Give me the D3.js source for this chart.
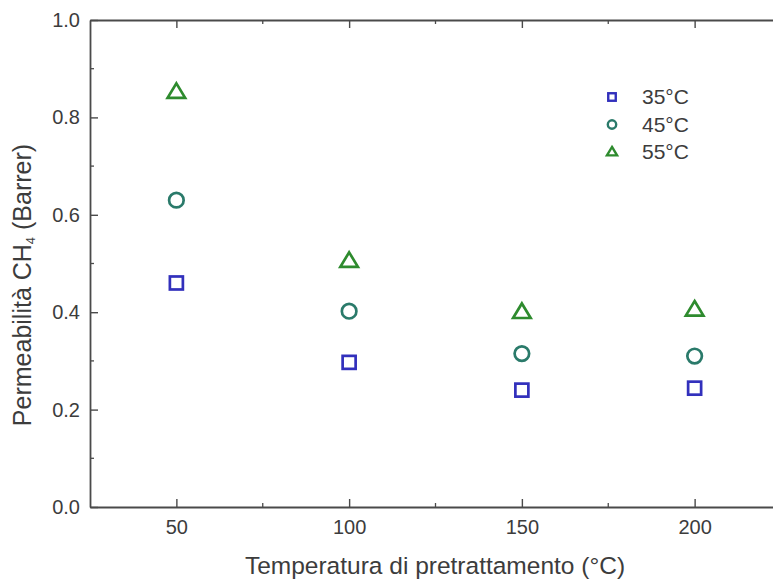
<!DOCTYPE html>
<html>
<head>
<meta charset="utf-8">
<script src="https://cdn.jsdelivr.net/npm/d3@7"></script>
<style>
  html, body { margin: 0; padding: 0; background: #fff; }
  svg { display: block; font-family: "Liberation Sans", Arial, sans-serif; }
</style>
</head>
<body>
<svg id="chart" width="773" height="581"></svg>
<script>
// Pretreatment temperatures (°C)
const temperatures = [50, 100, 150, 200];
// CH4 permeability (Barrer) measured at each test temperature
const perm35 = [0.460, 0.297, 0.240, 0.244];
const perm45 = [0.630, 0.402, 0.315, 0.310];
const perm55 = [0.852, 0.505, 0.400, 0.405];
const seriesNames = ["35°C", "45°C", "55°C"];
const xTicks = [50, 100, 150, 200];
const xMinorTicks = [75, 125, 175];
const yTicks = [0.0, 0.2, 0.4, 0.6, 0.8, 1.0];
const yMinorTicks = [0.1, 0.3, 0.5, 0.7, 0.9];

const series = [
  { name: seriesNames[0], values: perm35, shape: "square",   color: "#3230bc" },
  { name: seriesNames[1], values: perm45, shape: "circle",   color: "#2a7a6a" },
  { name: seriesNames[2], values: perm55, shape: "triangle", color: "#2e8b2e" }
];

const svg = d3.select("#chart");
const plotLeft = 90, plotRight = 781, plotTop = 20, plotBottom = 507;
const axisColor = "#4a4a4a";
const textColor = "#3c3c3c";

const x = d3.scaleLinear().domain([25, 225]).range([plotLeft, plotRight]);
const y = d3.scaleLinear().domain([0, 1]).range([plotBottom, plotTop]);

// Frame: bottom/left axes with labels, top/right mirrored with inward ticks
const bottomAxis = d3.axisBottom(x).tickValues(xTicks).tickFormat(d3.format("d")).tickSizeInner(-8).tickSizeOuter(0).tickPadding(13);
const leftAxis = d3.axisLeft(y).tickValues(yTicks).tickFormat(d3.format(".1f")).tickSizeInner(-8).tickSizeOuter(0).tickPadding(10);

function styleAxis(g) {
  g.select(".domain").attr("stroke", axisColor).attr("stroke-width", 1.8);
  g.selectAll(".tick line").attr("stroke", axisColor).attr("stroke-width", 1.4);
  g.selectAll(".tick text").attr("fill", textColor).style("font-size", "20px");
}

svg.append("g").attr("transform", `translate(0,${plotBottom})`).call(bottomAxis).call(styleAxis);
svg.append("g").attr("transform", `translate(${plotLeft},0)`).call(leftAxis).call(styleAxis);
svg.append("g").attr("transform", `translate(0,${plotTop})`)
  .call(d3.axisTop(x).tickValues(xTicks).tickFormat("").tickSizeInner(-8).tickSizeOuter(0)).call(styleAxis);
svg.append("g").attr("transform", `translate(${plotRight},0)`)
  .call(d3.axisRight(y).tickValues(yTicks).tickFormat("").tickSizeInner(-8).tickSizeOuter(0)).call(styleAxis);

// Minor ticks on all four sides
const minor = svg.append("g").attr("stroke", axisColor).attr("stroke-width", 1.3);
xMinorTicks.forEach(v => {
  minor.append("line").attr("x1", x(v)).attr("x2", x(v)).attr("y1", plotBottom).attr("y2", plotBottom - 4);
  minor.append("line").attr("x1", x(v)).attr("x2", x(v)).attr("y1", plotTop).attr("y2", plotTop + 4);
});
yMinorTicks.forEach(v => {
  minor.append("line").attr("x1", plotLeft).attr("x2", plotLeft + 4).attr("y1", y(v)).attr("y2", y(v));
  minor.append("line").attr("x1", plotRight).attr("x2", plotRight - 4).attr("y1", y(v)).attr("y2", y(v));
});

// Open markers: square, circle, triangle
function drawMarker(g, shape, cx, cy, size, color, sw) {
  if (shape === "square") {
    g.append("rect").attr("x", cx - size / 2).attr("y", cy - size / 2)
      .attr("width", size).attr("height", size)
      .attr("fill", "none").attr("stroke", color).attr("stroke-width", sw);
  } else if (shape === "circle") {
    const r = size * 0.56;
    g.append("circle").attr("cx", cx).attr("cy", cy).attr("r", r)
      .attr("fill", "none").attr("stroke", color).attr("stroke-width", sw);
  } else {
    const w = size * 1.35, h = size * 1.12;
    g.append("path")
      .attr("d", `M${cx},${cy - h * 0.6}L${cx + w / 2},${cy + h * 0.4}L${cx - w / 2},${cy + h * 0.4}Z`)
      .attr("fill", "none").attr("stroke", color).attr("stroke-width", sw)
      .attr("stroke-linejoin", "miter");
  }
}

const marks = svg.append("g");
series.forEach(s => {
  s.values.forEach((v, i) => {
    drawMarker(marks, s.shape, x(temperatures[i]), y(v), 13, s.color, 2.7);
  });
});

// Legend
const legend = svg.append("g");
series.forEach((s, i) => {
  const ly = 97 + i * 27.5;
  drawMarker(legend, s.shape, 612, ly, 7.5, s.color, 2.4);
  legend.append("text").attr("x", 642).attr("y", ly + 7)
    .attr("fill", textColor).style("font-size", "21px").text(s.name);
});

// Axis titles
svg.append("text")
  .attr("x", 435).attr("y", 574).attr("text-anchor", "middle")
  .attr("fill", textColor).style("font-size", "24.5px")
  .text("Temperatura di pretrattamento (°C)");

const yTitle = svg.append("text")
  .attr("transform", `translate(31,285) rotate(-90)`)
  .attr("text-anchor", "middle")
  .attr("fill", textColor).style("font-size", "25px");
yTitle.append("tspan").text("Permeabilità CH");
yTitle.append("tspan").attr("dy", 4).style("font-size", "13px").text("4");
yTitle.append("tspan").attr("dy", -4).text(" (Barrer)");
</script>
</body>
</html>
